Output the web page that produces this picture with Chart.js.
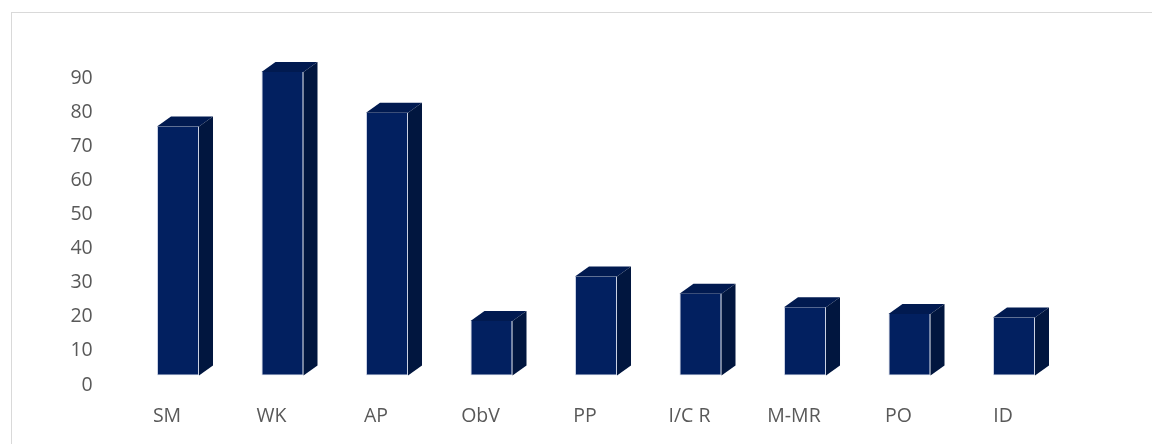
<!DOCTYPE html>
<html>
<head>
<meta charset="utf-8">
<script src="https://cdn.jsdelivr.net/npm/chart.js@4.4.1/dist/chart.umd.min.js"></script>
<style>
    html, body { margin: 0; padding: 0; background: #fff; }
    #wrap { position: relative; width: 1152px; height: 444px; overflow: hidden; }
    #frame {
        position: absolute; left: 11px; top: 12px; width: 1200px; height: 500px;
        border-left: 1px solid #d9d9d9; border-top: 1px solid #d9d9d9;
    }
    #barChart { position: absolute; left: 0; top: 0; }
</style>
</head>
<body>
<div id="wrap">
    <div id="frame"></div>
    <canvas id="barChart" width="1152" height="444"></canvas>
</div>
<script>
const categories = ['SM', 'WK', 'AP', 'ObV', 'PP', 'I/C R', 'M-MR', 'PO', 'ID'];
const values = [73, 89, 77, 16, 29, 24, 20, 18, 17];
const yTicks = [0, 10, 20, 30, 40, 50, 60, 70, 80, 90];

const frontColor = '#022060';
const topColor = '#011a50';
const sideColor = '#01163f';
const depthX = 14;
const depthY = 10;

// adds the top and side faces so each bar reads as a box
const boxFaces = {
    id: 'boxFaces',
    afterDatasetsDraw(chart) {
        const ctx = chart.ctx;
        chart.getDatasetMeta(0).data.forEach(bar => {
            const half = bar.width / 2;
            const l = bar.x - half;
            const r = bar.x + half;
            const t = bar.y;
            const b = bar.base;
            ctx.save();
            ctx.fillStyle = topColor;
            ctx.beginPath();
            ctx.moveTo(l, t);
            ctx.lineTo(l + depthX, t - depthY);
            ctx.lineTo(r + depthX, t - depthY);
            ctx.lineTo(r, t);
            ctx.closePath();
            ctx.fill();
            ctx.fillStyle = sideColor;
            ctx.beginPath();
            ctx.moveTo(r, t);
            ctx.lineTo(r + depthX, t - depthY);
            ctx.lineTo(r + depthX, b - depthY);
            ctx.lineTo(r, b);
            ctx.closePath();
            ctx.fill();
            ctx.restore();
        });
    }
};

const ctx = document.getElementById('barChart').getContext('2d');
new Chart(ctx, {
    type: 'bar',
    data: {
        labels: categories,
        datasets: [{
            data: values,
            backgroundColor: frontColor,
            borderColor: 'rgba(140,155,195,0.45)',
            borderWidth: 1,
            borderSkipped: 'top',
            categoryPercentage: 1,
            barPercentage: 0.402
        }]
    },
    options: {
        responsive: false,
        animation: false,
        layout: { padding: { top: 68.5, right: 85.75, left: 0, bottom: 0 } },
        plugins: { legend: { display: false }, tooltip: { enabled: false } },
        scales: {
            x: {
                grid: { display: false, drawTicks: false },
                border: { display: false },
                ticks: {
                    color: '#595959',
                    font: { family: 'Open Sans', size: 19.5 },
                    padding: 29,
                    labelOffset: -11,
                    maxRotation: 0,
                    autoSkip: false
                },
                afterFit(scale) { scale.height = 68.5; }
            },
            y: {
                min: 0,
                max: 90,
                grid: { display: false, drawTicks: false },
                border: { display: false },
                afterBuildTicks(scale) { scale.ticks = yTicks.map(v => ({ value: v })); },
                ticks: {
                    color: '#595959',
                    font: { family: 'Open Sans', size: 19.5 },
                    padding: 33,
                    labelOffset: 9.5
                },
                afterFit(scale) { scale.width = 125.75; }
            }
        }
    },
    plugins: [boxFaces]
});
</script>
</body>
</html>
